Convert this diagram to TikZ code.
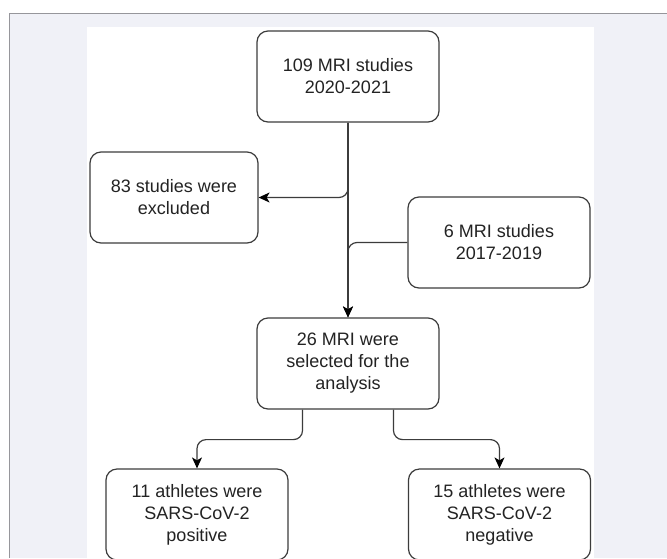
\documentclass[tikz,border=0pt]{standalone}
\usepackage{fontspec}
\setmainfont{Liberation Sans}
\usetikzlibrary{arrows.meta}
\definecolor{pagegray}{RGB}{240,241,247}
\definecolor{framegray}{RGB}{150,150,155}
\definecolor{linegray}{RGB}{60,60,60}
\definecolor{txtgray}{RGB}{35,35,35}
\tikzset{
  flowbox/.style={draw=linegray, line width=1.2pt, rounded corners=11pt,
    minimum width=182pt, minimum height=91pt, align=center, inner sep=2pt,
    text=txtgray, font=\fontsize{18}{22}\selectfont},
  link/.style={draw=linegray, line width=1.2pt, rounded corners=9pt},
  arrowlink/.style={link, -{Stealth[length=11pt,width=10pt,inset=3pt,black]}}
}
\begin{document}
\begin{tikzpicture}[x=1pt, y=-1pt]
\useasboundingbox (0,0) rectangle (667,558);
\fill[white] (0,0) rectangle (667,558);
\fill[pagegray] (9,13) rectangle (667,558);
\draw[framegray, line width=1pt] (9,558) -- (9,13) -- (667,13);
\fill[white] (87,27) rectangle (594,558);

\node[flowbox] (top) at (348,76.5) {109 MRI studies\\2020-2021};
\node[flowbox, minimum width=168pt] (excl) at (174,197.5) {83 studies were\\excluded};
\node[flowbox] (six) at (499,242.5) {6 MRI studies\\2017-2019};
\node[flowbox] (sel) at (348,363.5) {26 MRI were\\selected for the\\analysis};
\node[flowbox] (pos) at (197,514.5) {11 athletes were\\SARS-CoV-2\\positive};
\node[flowbox] (neg) at (499.5,514.5) {15 athletes were\\SARS-CoV-2\\negative};

\draw[arrowlink] (top.south) |- (excl.east);
\draw[arrowlink] (top.south) -- (sel.north);
\draw[arrowlink] (six.west) -| (sel.north);
\draw[arrowlink] ([xshift=-45.5pt]sel.south) -- ++(0,30) -| (pos.north);
\draw[arrowlink] ([xshift=45.5pt]sel.south) -- ++(0,30) -| (neg.north);
\end{tikzpicture}
\end{document}
